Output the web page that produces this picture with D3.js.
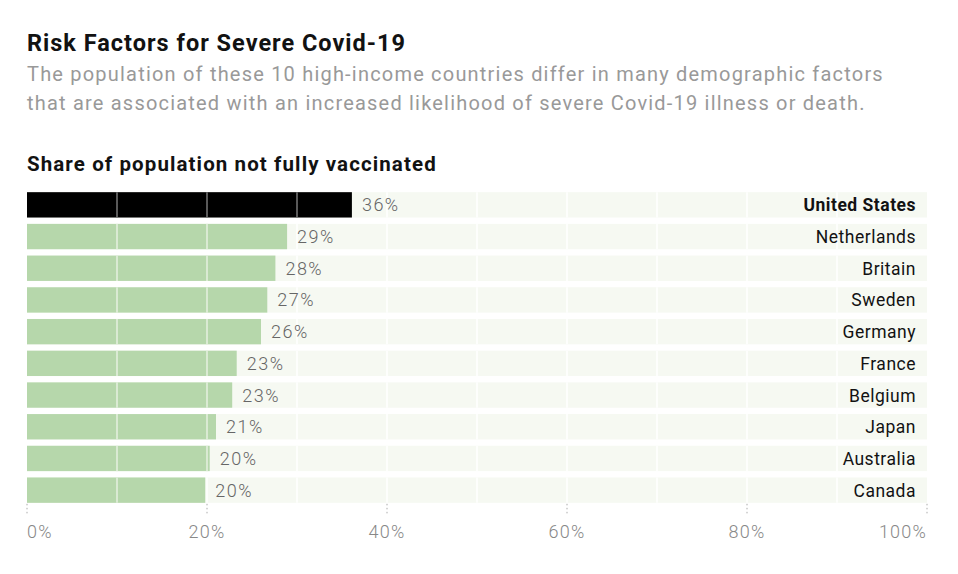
<!DOCTYPE html>
<html>
<head>
<meta charset="utf-8">
<script src="https://cdn.jsdelivr.net/npm/d3@7"></script>
<style>
  body { margin: 0; background: #fff; font-family: "Roboto", "Liberation Sans", sans-serif; }
</style>
</head>
<body>
<div id="graph"></div>
<script>
var countries = ["United States", "Netherlands", "Britain", "Sweden", "Germany", "France", "Belgium", "Japan", "Australia", "Canada"];
var values = [36.1, 28.9, 27.6, 26.7, 26.0, 23.3, 22.8, 21.0, 20.3, 19.8];
var ticks = [0, 20, 40, 60, 80, 100];
var gridLines = [10, 20, 30, 40, 50, 60, 70, 80, 90];

var width = 958, height = 574;
var margin = {top: 192, left: 27, right: 31, bottom: 72};

var svg = d3.select("#graph").append("svg")
  .attr("width", width)
  .attr("height", height);

svg.append("text").attr("x", 27).attr("y", 51)
  .attr("font-size", "23.5px").attr("font-weight", 700).attr("fill", "#121212")
  .attr("letter-spacing", "1px")
  .text("Risk Factors for Severe Covid-19");

svg.append("text").attr("x", 27).attr("y", 81)
  .attr("font-size", "20px").attr("fill", "#999")
  .attr("letter-spacing", "1.2px")
  .text("The population of these 10 high-income countries differ in many demographic factors");
svg.append("text").attr("x", 27).attr("y", 110)
  .attr("font-size", "20px").attr("fill", "#999")
  .attr("letter-spacing", "1.2px")
  .text("that are associated with an increased likelihood of severe Covid-19 illness or death.");

svg.append("text").attr("x", 27).attr("y", 171)
  .attr("font-size", "20.5px").attr("font-weight", 700).attr("fill", "#121212")
  .attr("letter-spacing", "1.1px")
  .text("Share of population not fully vaccinated");

var x = d3.scaleLinear().domain([0, 100]).range([margin.left, width - margin.right]);
var y = d3.scaleBand().domain(countries)
  .range([margin.top - 3, height - margin.bottom + 4]).paddingInner(0.2).paddingOuter(0.1);

var g = svg.append("g");

// background rows
g.selectAll(".bg").data(countries).enter().append("rect")
  .attr("class", "bg")
  .attr("x", x(0)).attr("width", x(100) - x(0))
  .attr("y", function(d) { return y(d); })
  .attr("height", y.bandwidth())
  .attr("fill", "#f6f9f2");

// bars
g.selectAll(".bar").data(countries).enter().append("rect")
  .attr("class", "bar")
  .attr("x", x(0))
  .attr("y", function(d) { return y(d); })
  .attr("height", y.bandwidth())
  .attr("width", function(d, i) { return x(values[i]) - x(0); })
  .attr("fill", function(d, i) { return i === 0 ? "#000" : "#b6d7ab"; });

// white gridlines
countries.forEach(function(c, i) {
  g.selectAll(".grid" + i).data(gridLines).enter().append("line")
    .attr("x1", function(d) { return x(d); })
    .attr("x2", function(d) { return x(d); })
    .attr("y1", y(c)).attr("y2", y(c) + y.bandwidth())
    .attr("stroke", function(d) { return d < values[i] ? (i === 0 ? "#777" : "#e6f0e1") : "#fff"; })
    .attr("stroke-width", 1.5);
});

// value labels
g.selectAll(".val").data(countries).enter().append("text")
  .attr("x", function(d, i) { return x(values[i]) + 10; })
  .attr("y", function(d) { return y(d) + y.bandwidth() / 2 + 6.5; })
  .attr("font-size", "18px").attr("font-weight", 300).attr("fill", "#666")
  .attr("letter-spacing", "1.5px")
  .text(function(d, i) { return Math.round(values[i]) + "%"; });

// country labels
g.selectAll(".name").data(countries).enter().append("text")
  .attr("x", x(100) - 11)
  .attr("y", function(d) { return y(d) + y.bandwidth() / 2 + 6.5; })
  .attr("text-anchor", "end")
  .attr("font-size", "17.5px")
  .attr("letter-spacing", "0.5px")
  .attr("font-weight", function(d, i) { return i === 0 ? 700 : 400; })
  .attr("fill", "#121212")
  .text(function(d) { return d; });

// axis
var axisY = y(countries[countries.length - 1]) + y.bandwidth();
g.selectAll(".tick").data(ticks).enter().append("line")
  .attr("x1", function(d) { return x(d); })
  .attr("x2", function(d) { return x(d); })
  .attr("y1", axisY + 1).attr("y2", axisY + 13)
  .attr("stroke", "#aaa").attr("stroke-dasharray", "1.5,2.5");

g.selectAll(".tlab").data(ticks).enter().append("text")
  .attr("x", function(d) { return x(d); })
  .attr("y", axisY + 35)
  .attr("text-anchor", function(d) { return d === 0 ? "start" : d === 100 ? "end" : "middle"; })
  .attr("font-size", "18px").attr("font-weight", 300).attr("fill", "#888")
  .attr("letter-spacing", "1.2px")
  .text(function(d) { return d + "%"; });
</script>
</body>
</html>
